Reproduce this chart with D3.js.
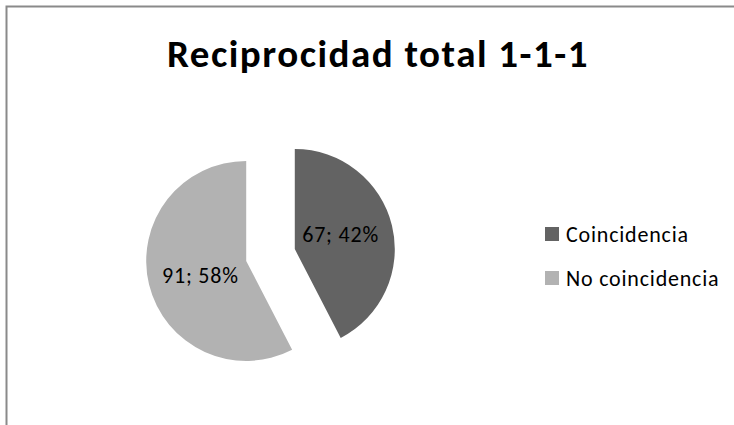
<!DOCTYPE html>
<meta charset="utf-8">
<style>
html,body{
  margin:0;
  background:#fff;
  overflow:hidden;
}
svg{ display:block; }
text{ font-family: Carlito, Calibri, Lato, sans-serif; fill:#000; }
</style>
<script src="https://d3js.org/d3.v7.min.js"></script>
<body>
<script>

var categories = ["Coincidencia", "No coincidencia"];
var values = [67, 91];
var percents = ["42%", "58%"];
var colors = ["#636363", "#b2b2b2"];
var title = "Reciprocidad total 1-1-1";

var width = 734,
    height = 425;

var svg = d3.select("body").append("svg")
    .attr("width", width)
    .attr("height", height);

// chart frame (only top and left edges show in the crop)
svg.append("path")
    .attr("d", "M6.5," + height + "V6.5H" + width)
    .attr("fill", "none")
    .attr("stroke", "#8a8a8a")
    .attr("stroke-width", 2);

svg.append("text")
    .attr("x", 378)
    .attr("y", 67)
    .attr("text-anchor", "middle")
    .style("font-size", "39px")
    .style("font-weight", "bold")
    .style("letter-spacing", "1.5px")
    .text(title);

var radius = 100,
    explode = 25,
    cx = 270.5,
    cy = 255;

var pie = d3.pie().sort(null);
var arc = d3.arc().innerRadius(0).outerRadius(radius);

var slices = svg.append("g")
    .attr("transform", "translate(" + cx + "," + cy + ")")
  .selectAll("g")
    .data(pie(values))
  .enter().append("g")
    .attr("transform", function(d){
      var a = (d.startAngle + d.endAngle) / 2;
      return "translate(" + (Math.sin(a) * explode) + "," + (-Math.cos(a) * explode) + ")";
    });

slices.append("path")
    .attr("d", arc)
    .attr("fill", function(d,i){ return colors[i]; });

// labels sit a bit inside the middle of each slice, slightly turned back
slices.append("text")
    .attr("transform", function(d){
      var a = (d.startAngle + d.endAngle) / 2 - 0.065,
          r = radius * 0.48;
      return "translate(" + (Math.sin(a) * r) + "," + (-Math.cos(a) * r) + ")";
    })
    .attr("text-anchor", "middle")
    .attr("dy", "0.35em")
    .style("font-size", "22px")
    .style("letter-spacing", "0.8px")
    .text(function(d,i){ return values[i] + "; " + percents[i]; });

var legend = svg.append("g")
  .selectAll("g")
    .data(categories)
  .enter().append("g")
    .attr("transform", function(d,i){ return "translate(545," + (227 + i * 44) + ")"; });

legend.append("rect")
    .attr("width", 14)
    .attr("height", 14)
    .attr("fill", function(d,i){ return colors[i]; });

legend.append("text")
    .attr("x", 21)
    .attr("y", 7)
    .attr("dy", "0.35em")
    .style("font-size", "22px")
    .style("letter-spacing", "0.8px")
    .text(function(d){ return d; });

</script>
</body>
